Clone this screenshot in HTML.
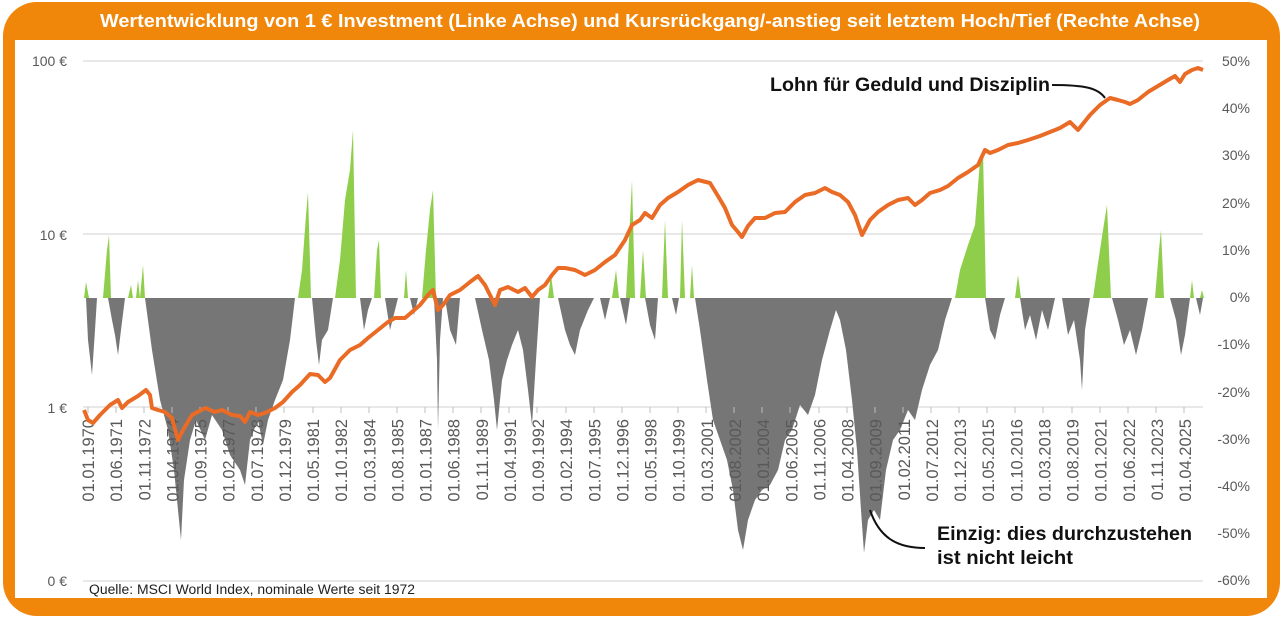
<!DOCTYPE html>
<html><head><meta charset="utf-8"><style>
html,body{margin:0;padding:0;background:#fff;}
body{width:1280px;height:620px;overflow:hidden;position:relative;font-family:"Liberation Sans",sans-serif;}
</style></head><body>
<svg width="1280" height="620" viewBox="0 0 1280 620" xmlns="http://www.w3.org/2000/svg" style="position:absolute;left:0;top:0">
<rect x="3" y="2" width="1277" height="614" rx="34" fill="#f0870a"/>
<rect x="15" y="40" width="1252" height="558" fill="#fff"/>
<text x="100" y="27" textLength="1100" lengthAdjust="spacingAndGlyphs" font-family="Liberation Sans, sans-serif" font-weight="bold" font-size="18" fill="#fff">Wertentwicklung von 1 € Investment (Linke Achse) und Kursrückgang/-anstieg seit letztem Hoch/Tief (Rechte Achse)</text>
<g stroke="#d9d9d9" stroke-width="1.3">
<line x1="83" y1="61" x2="1203" y2="61"/>
<line x1="83" y1="234" x2="1203" y2="234"/>
<line x1="83" y1="407" x2="1203" y2="407"/>
<line x1="83" y1="581" x2="1203" y2="581"/>
</g>
<g font-size="14" fill="#595959" font-family="Liberation Sans, sans-serif">
<text x="67" y="66" text-anchor="end">100 €</text>
<text x="67" y="240" text-anchor="end">10 €</text>
<text x="67" y="413" text-anchor="end">1 €</text>
<text x="67" y="586" text-anchor="end">0 €</text>
<g text-anchor="end">
<text x="1250" y="66">50%</text><text x="1250" y="113">40%</text><text x="1250" y="160">30%</text>
<text x="1250" y="208">20%</text><text x="1250" y="255">10%</text><text x="1250" y="302">0%</text>
<text x="1250" y="349">-10%</text><text x="1250" y="397">-20%</text><text x="1250" y="444">-30%</text>
<text x="1250" y="491">-40%</text><text x="1250" y="538">-50%</text><text x="1250" y="585">-60%</text>
</g></g>
<path fill="#8fce4a" d="M84,298 L86,282 L89,298 Z M103,298 L107,250 L109,235 L111,298 Z M128,298 L131,285 L133,298 Z M136,298 L138,280 L140,298 Z M140,298 L143,265 L145,298 Z
M298,298 L302,270 L306,215 L308,192 L311,298 Z M335,298 L340,260 L345,200 L350,170 L353,130 L356,298 Z M374,298 L377,250 L379,240 L381,298 Z M404,298 L406,270 L408,298 Z
M422,298 L426,250 L430,210 L433,190 L436,298 Z M548,298 L551,275 L554,298 Z M612,298 L616,270 L619,298 Z M626,298 L630,220 L632,180 L635,298 Z M640,298 L643,250 L646,298 Z
M662,298 L665,220 L668,298 Z M680,298 L682,220 L685,298 Z M690,298 L692,265 L694,298 Z
M955,298 L960,270 L968,245 L975,225 L980,160 L983,150 L986,298 Z M1015,298 L1018,275 L1021,298 Z M1093,298 L1097,270 L1103,230 L1107,205 L1111,298 Z M1155,298 L1159,250 L1161,230 L1164,298 Z M1190,298 L1192,280 L1194,298 Z M1200,298 L1202,290 L1204,298 Z"/>
<path fill="#767676" d="M86,298 L88,340 L92,375 L95,330 L97,298 Z M108,298 L112,320 L115,335 L118,355 L121,330 L125,298 Z
M145,298 L152,350 L160,400 L168,430 L174,470 L178,510 L181,540 L184,480 L190,440 L196,420 L205,440 L212,415 L222,430 L230,455 L240,470 L245,485 L250,440 L258,420 L263,445 L268,420 L275,400 L283,380 L290,340 L295,298 Z
M312,298 L316,340 L319,365 L322,340 L328,330 L333,298 Z M360,298 L364,330 L368,310 L372,298 Z M385,298 L390,330 L395,310 L398,298 Z M410,298 L414,315 L418,298 Z
M434,298 L437,360 L438,430 L440,340 L443,298 Z M445,298 L450,330 L456,345 L460,298 Z
M475,298 L482,330 L489,360 L494,400 L497,430 L502,380 L507,360 L512,345 L518,330 L523,350 L528,390 L532,425 L536,360 L540,298 Z
M558,298 L565,330 L570,345 L575,355 L580,330 L588,310 L594,298 Z M600,298 L605,320 L610,298 Z M620,298 L626,325 L630,298 Z M645,298 L650,325 L655,340 L658,298 Z M672,298 L676,315 L679,298 Z
M695,298 L700,330 L707,380 L713,420 L720,440 L727,460 L733,490 L738,530 L743,550 L748,520 L755,500 L762,490 L770,485 L778,470 L785,440 L792,430 L800,405 L808,415 L815,395 L822,360 L830,330 L836,310 L840,320 L846,350 L852,400 L857,450 L861,510 L864,553 L868,520 L874,510 L880,520 L886,470 L893,440 L900,430 L908,410 L915,420 L922,390 L930,365 L938,350 L945,320 L952,298 Z
M985,298 L990,330 L995,340 L1000,315 L1005,298 Z M1020,298 L1025,330 L1030,315 L1036,340 L1042,310 L1048,330 L1055,298 Z M1062,298 L1068,335 L1074,320 L1080,360 L1082,390 L1085,330 L1090,298 Z
M1112,298 L1118,320 L1124,345 L1130,330 L1136,355 L1142,330 L1148,298 Z M1170,298 L1176,320 L1181,355 L1185,335 L1190,298 Z M1196,298 L1200,315 L1203,298 Z"/>
<g stroke="#bfbfbf" stroke-width="1">
<path d="M88,407v6M116,407v6M144,407v6M172,407v6M200,407v6M228,407v6M256,407v6M284,407v6M313,407v6M341,407v6M369,407v6M397,407v6M425,407v6M453,407v6M481,407v6M509,407v6M537,407v6M566,407v6M594,407v6M622,407v6M650,407v6M678,407v6M706,407v6M734,407v6M762,407v6M790,407v6M819,407v6M847,407v6M875,407v6M903,407v6M931,407v6M959,407v6M987,407v6M1015,407v6M1043,407v6M1072,407v6M1100,407v6M1128,407v6M1156,407v6M1184,407v6"/>
</g>
<g font-size="16.5" fill="#595959" font-family="Liberation Sans, sans-serif" text-anchor="end" id="xl"></g>
<path fill="none" stroke="#ea6b25" stroke-width="4" stroke-linejoin="round" d="M84,410 L88,420 L93,423 L100,415 L110,405 L118,400 L122,408 L128,402 L138,396 L146,390 L150,395 L152,408 L158,410 L165,412 L172,418 L178,440 L183,430 L192,415 L205,408 L215,412 L222,410 L232,415 L240,416 L245,422 L250,412 L258,415 L265,413 L275,408 L283,402 L292,392 L300,385 L310,374 L318,375 L325,382 L330,378 L340,360 L350,350 L360,345 L368,338 L378,330 L388,322 L395,318 L405,318 L412,312 L420,305 L428,295 L433,290 L438,310 L443,305 L450,295 L460,290 L470,282 L478,276 L485,285 L490,295 L495,305 L500,290 L508,287 L518,292 L525,288 L532,297 L538,290 L545,285 L552,275 L558,268 L565,268 L575,270 L585,275 L595,270 L605,262 L615,255 L625,240 L632,225 L640,220 L645,213 L652,218 L660,205 L668,198 L678,192 L688,185 L698,180 L710,183 L718,196 L725,208 L732,225 L738,232 L742,237 L748,226 L755,218 L765,218 L775,213 L785,212 L795,202 L805,195 L815,193 L825,188 L832,192 L840,195 L848,202 L855,215 L862,235 L870,220 L878,212 L888,205 L898,200 L908,198 L915,205 L922,200 L930,193 L940,190 L948,186 L958,178 L968,172 L978,165 L985,150 L990,153 L998,150 L1008,145 L1018,143 L1028,140 L1040,136 L1050,132 L1060,128 L1070,122 L1078,130 L1082,125 L1090,115 L1100,105 L1110,98 L1118,100 L1125,102 L1130,104 L1138,100 L1148,92 L1158,86 L1168,80 L1175,76 L1180,82 L1185,74 L1192,70 L1198,68 L1203,70"/>
<text x="770" y="91" textLength="280" lengthAdjust="spacingAndGlyphs" font-family="Liberation Sans, sans-serif" font-weight="bold" font-size="19" fill="#111">Lohn für Geduld und Disziplin</text>
<path d="M1052,85 C1085,85 1098,88 1105,98" fill="none" stroke="#111" stroke-width="2"/>
<text x="937" y="540" textLength="255" lengthAdjust="spacingAndGlyphs" font-family="Liberation Sans, sans-serif" font-weight="bold" font-size="19" fill="#111">Einzig: dies durchzustehen</text>
<text x="937" y="564" textLength="136" lengthAdjust="spacingAndGlyphs" font-family="Liberation Sans, sans-serif" font-weight="bold" font-size="19" fill="#111">ist nicht leicht</text>
<path d="M870,510 C880,540 900,548 925,548" fill="none" stroke="#111" stroke-width="2"/>
<text x="89" y="594" textLength="326" lengthAdjust="spacingAndGlyphs" font-family="Liberation Sans, sans-serif" font-size="13.5" fill="#222">Quelle: MSCI World Index, nominale Werte seit 1972</text>
</svg>
<script>
var g=document.getElementById('xl'),s='';
for(var i=0;i<40;i++){var m=i*17,y=1970+Math.floor(m/12),mo=(m%12)+1;var t='01.'+(mo<10?'0':'')+mo+'.'+y;var x=88+i*28.13+6;
s+='<text transform="translate('+x.toFixed(1)+',419) rotate(-90)">'+t+'</text>';}
g.innerHTML=s;
</script>
</body></html>
